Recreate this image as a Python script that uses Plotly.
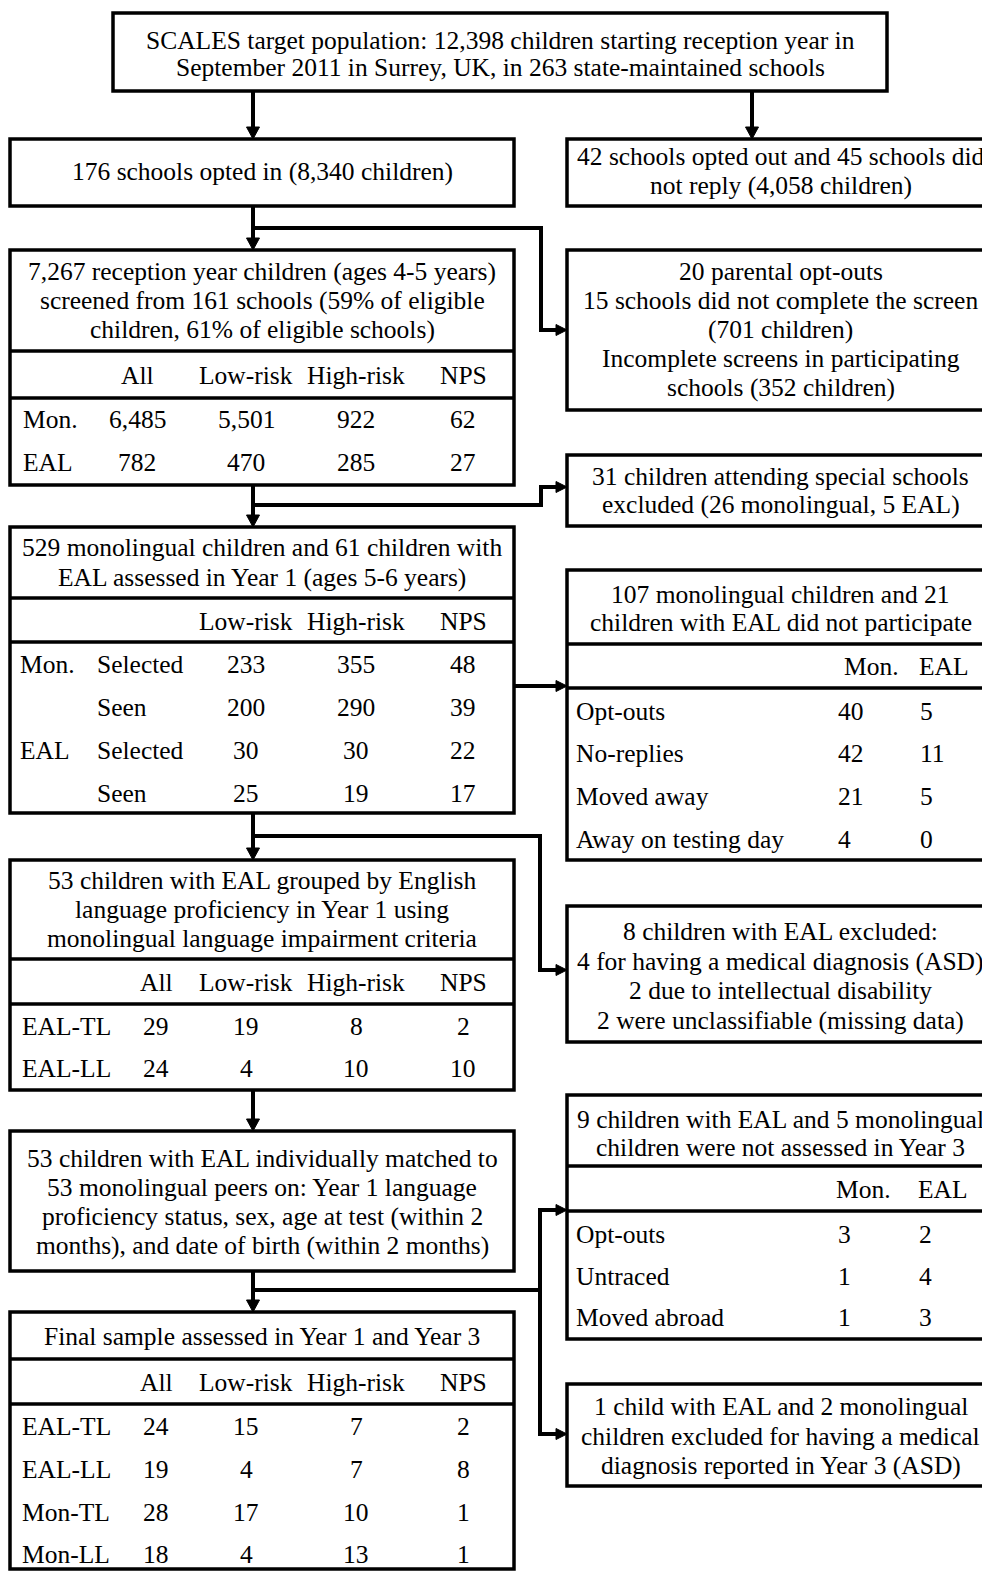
import plotly.graph_objects as go

# ---------------- data ----------------
top_text = ["SCALES target population: 12,398 children starting reception year in",
            "September 2011 in Surrey, UK, in 263 state-maintained schools"]
optin_text = ["176 schools opted in (8,340 children)"]
optout_text = ["42 schools opted out and 45 schools did", "not reply (4,058 children)"]

screen_title = ["7,267 reception year children (ages 4-5 years)",
                "screened from 161 schools (59% of eligible",
                "children, 61% of eligible schools)"]
screen_cols = ["All", "Low-risk", "High-risk", "NPS"]
screen_groups = ["Mon.", "EAL"]
screen_all = [6485, 782]
screen_low = [5501, 470]
screen_high = [922, 285]
screen_nps = [62, 27]

screen_loss_text = ["20 parental opt-outs", "15 schools did not complete the screen",
                    "(701 children)", "Incomplete screens in participating",
                    "schools (352 children)"]
special_text = ["31 children attending special schools",
                "excluded (26 monolingual, 5 EAL)"]

y1_title = ["529 monolingual children and 61 children with",
            "EAL assessed in Year 1 (ages 5-6 years)"]
y1_cols = ["Low-risk", "High-risk", "NPS"]
y1_groups = ["Mon.", "", "EAL", ""]
y1_status = ["Selected", "Seen", "Selected", "Seen"]
y1_low = [233, 200, 30, 25]
y1_high = [355, 290, 30, 19]
y1_nps = [48, 39, 22, 17]

np_title = ["107 monolingual children and 21", "children with EAL did not participate"]
np_cols = ["Mon.", "EAL"]
np_reasons = ["Opt-outs", "No-replies", "Moved away", "Away on testing day"]
np_mon = [40, 42, 21, 4]
np_eal = [5, 11, 5, 0]

grp_title = ["53 children with EAL grouped by English",
             "language proficiency in Year 1 using",
             "monolingual language impairment criteria"]
grp_cols = ["All", "Low-risk", "High-risk", "NPS"]
grp_rows = ["EAL-TL", "EAL-LL"]
grp_all = [29, 24]
grp_low = [19, 4]
grp_high = [8, 10]
grp_nps = [2, 10]

excl_text = ["8 children with EAL excluded:", "4 for having a medical diagnosis (ASD)",
             "2 due to intellectual disability", "2 were unclassifiable (missing data)"]

match_text = ["53 children with EAL individually matched to",
              "53 monolingual peers on: Year 1 language",
              "proficiency status, sex, age at test (within 2",
              "months), and date of birth (within 2 months)"]

y3_title = ["9 children with EAL and 5 monolingual", "children were not assessed in Year 3"]
y3_cols = ["Mon.", "EAL"]
y3_reasons = ["Opt-outs", "Untraced", "Moved abroad"]
y3_mon = [3, 1, 1]
y3_eal = [2, 4, 3]

asd_text = ["1 child with EAL and 2 monolingual", "children excluded for having a medical",
            "diagnosis reported in Year 3 (ASD)"]

final_title = ["Final sample assessed in Year 1 and Year 3"]
final_cols = ["All", "Low-risk", "High-risk", "NPS"]
final_rows = ["EAL-TL", "EAL-LL", "Mon-TL", "Mon-LL"]
final_all = [24, 19, 28, 18]
final_low = [15, 4, 17, 4]
final_high = [7, 7, 10, 13]
final_nps = [2, 8, 1, 1]

# ---------------- layout helpers ----------------
W, H = 982, 1571
FONT = "Liberation Serif"
FS = 25.5
LW = 3.5
CW = 4

shapes = []
annots = []

LX0, LX1 = 10, 514
RX0, RX1 = 567, 994
LC = (LX0 + LX1) / 2
RC = (RX0 + RX1) / 2
AX = 253


def txt(x, y, s, anchor="center"):
    annots.append(dict(x=x, y=y, xref="x", yref="y", text=str(s), showarrow=False,
                       xanchor=anchor, yanchor="middle",
                       font=dict(family=FONT, size=FS, color="black")))


def box(x0, y0, x1, y1):
    shapes.append(dict(type="rect", xref="x", yref="y", x0=x0, y0=y0, x1=x1, y1=y1,
                       line=dict(color="black", width=LW), fillcolor="white", layer="below"))


def hline(x0, x1, y, w=LW):
    shapes.append(dict(type="line", xref="x", yref="y", x0=x0, x1=x1, y0=y, y1=y,
                       line=dict(color="black", width=w)))


def vline(x, y0, y1, w=LW):
    shapes.append(dict(type="line", xref="x", yref="y", x0=x, x1=x, y0=y0, y1=y1,
                       line=dict(color="black", width=w)))


def head_down(x, y):
    shapes.append(dict(type="path", xref="x", yref="y",
                       path=f"M {x-6.5},{y-12} L {x+6.5},{y-12} L {x},{y} Z",
                       fillcolor="black", line=dict(color="black", width=1)))


def head_right(x, y):
    shapes.append(dict(type="path", xref="x", yref="y",
                       path=f"M {x-11},{y-5.5} L {x-11},{y+5.5} L {x},{y} Z",
                       fillcolor="black", line=dict(color="black", width=1)))


def lines(cx, ys, texts):
    for y, s in zip(ys, texts):
        txt(cx, y, s)


def fmt(v):
    return f"{v:,}"


# ---------------- top ----------------
box(113, 13, 887, 91)
lines(500, [40, 67], top_text)
vline(AX, 91, 130, CW); head_down(AX, 139)
vline(752, 91, 130, CW); head_down(752, 139)

box(LX0, 139, LX1, 206)
lines(LC, [171], optin_text)
box(RX0, 139, RX1, 206)
lines(RC, [156, 185], optout_text)

# connector to screening
vline(AX, 206, 241, CW); head_down(AX, 250)
hline(AX, 541, 228, CW)
vline(541, 226, 330, CW)
hline(539, 558, 330, CW); head_right(RX0, 330)

# ---------------- screening box ----------------
box(LX0, 250, LX1, 485)
lines(LC, [271, 300, 329], screen_title)
hline(LX0, LX1, 351)
hline(LX0, LX1, 398)
col4 = [137, 246, 356, 463]
for x, c in zip(col4, screen_cols):
    txt(x, 375, c)
for i, y in enumerate([419, 462]):
    txt(21, y, screen_groups[i], "left")
    for x, v in zip(col4, [screen_all[i], screen_low[i], screen_high[i], screen_nps[i]]):
        txt(x, y, fmt(v))

box(RX0, 250, RX1, 410)
lines(RC, [271, 300, 329, 358, 387], screen_loss_text)

# connector to year 1
vline(AX, 485, 518, CW); head_down(AX, 527)
hline(AX, 541, 505, CW)
vline(541, 487, 507, CW)
hline(539, 558, 487, CW); head_right(RX0, 487)

box(RX0, 455, RX1, 526)
lines(RC, [476, 504], special_text)

# ---------------- year 1 box ----------------
box(LX0, 527, LX1, 813)
lines(LC, [547, 577], y1_title)
hline(LX0, LX1, 598)
hline(LX0, LX1, 642)
col3 = [246, 356, 463]
for x, c in zip(col3, y1_cols):
    txt(x, 621, c)
for i, y in enumerate([664, 707, 750, 793]):
    txt(18, y, y1_groups[i], "left")
    txt(95, y, y1_status[i], "left")
    for x, v in zip(col3, [y1_low[i], y1_high[i], y1_nps[i]]):
        txt(x, y, fmt(v))

hline(LX1, 558, 686, CW); head_right(RX0, 686)

box(RX0, 570, RX1, 860)
lines(RC, [594, 622], np_title)
hline(RX0, RX1, 644)
hline(RX0, RX1, 688)
txt(842, 666, np_cols[0], "left")
txt(917, 666, np_cols[1], "left")
for i, y in enumerate([711, 753, 796, 839]):
    txt(574, y, np_reasons[i], "left")
    txt(836, y, np_mon[i], "left")
    txt(918, y, np_eal[i], "left")

# connector to grouping
vline(AX, 813, 851, CW); head_down(AX, 860)
hline(AX, 540, 836, CW)
vline(540, 834, 970, CW)
hline(538, 558, 970, CW); head_right(RX0, 970)

box(RX0, 906, RX1, 1042)
lines(RC, [931, 961, 990, 1020], excl_text)

# ---------------- grouping box ----------------
box(LX0, 860, LX1, 1090)
lines(LC, [880, 909, 938], grp_title)
hline(LX0, LX1, 959)
hline(LX0, LX1, 1004)
colg = [156, 246, 356, 463]
for x, c in zip(colg, grp_cols):
    txt(x, 982, c)
for i, y in enumerate([1026, 1068]):
    txt(20, y, grp_rows[i], "left")
    for x, v in zip(colg, [grp_all[i], grp_low[i], grp_high[i], grp_nps[i]]):
        txt(x, y, fmt(v))

vline(AX, 1090, 1122, CW); head_down(AX, 1131)

# ---------------- matching box ----------------
box(LX0, 1131, LX1, 1271)
lines(LC, [1158, 1187, 1216, 1245], match_text)

box(RX0, 1095, RX1, 1339)
lines(RC, [1119, 1147], y3_title)
hline(RX0, RX1, 1166)
hline(RX0, RX1, 1211)
txt(834, 1189, y3_cols[0], "left")
txt(916, 1189, y3_cols[1], "left")
for i, y in enumerate([1234, 1276, 1317]):
    txt(574, y, y3_reasons[i], "left")
    txt(836, y, y3_mon[i], "left")
    txt(917, y, y3_eal[i], "left")

# connector to final
vline(AX, 1271, 1303, CW); head_down(AX, 1312)
hline(AX, 540, 1290, CW)
vline(540, 1208, 1436, CW)
hline(538, 558, 1210, CW); head_right(RX0, 1210)
hline(538, 558, 1434, CW); head_right(RX0, 1434)

box(RX0, 1384, RX1, 1486)
lines(RC, [1406, 1436, 1465], asd_text)

# ---------------- final box ----------------
box(LX0, 1312, LX1, 1569)
lines(LC, [1336], final_title)
hline(LX0, LX1, 1359)
hline(LX0, LX1, 1404)
for x, c in zip(colg, final_cols):
    txt(x, 1382, c)
for i, y in enumerate([1426, 1469, 1512, 1554]):
    txt(20, y, final_rows[i], "left")
    for x, v in zip(colg, [final_all[i], final_low[i], final_high[i], final_nps[i]]):
        txt(x, y, fmt(v))

fig = go.Figure()
fig.update_layout(
    width=W, height=H,
    margin=dict(l=0, r=0, t=0, b=0),
    paper_bgcolor="white", plot_bgcolor="white",
    xaxis=dict(range=[0, W], visible=False, fixedrange=True),
    yaxis=dict(range=[H, 0], visible=False, fixedrange=True),
    shapes=shapes, annotations=annots, showlegend=False,
)
fig.write_html("out.html", config={"displayModeBar": False},
               post_script="document.body.style.margin='0';document.body.style.overflow='hidden';")
